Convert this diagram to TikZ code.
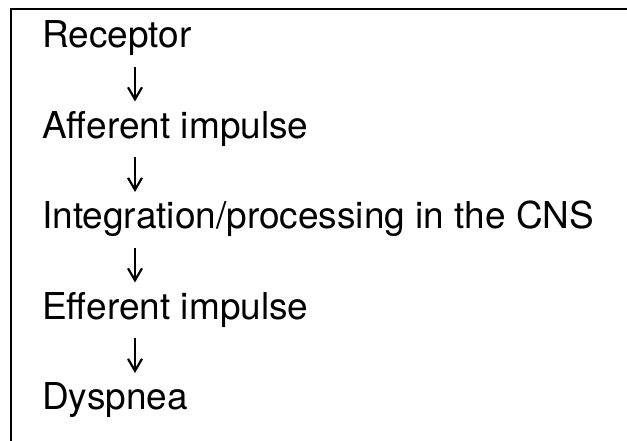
\documentclass[tikz,border=0pt]{standalone}
\usepackage{fontspec}
\setmainfont{TeX Gyre Heros}
\usetikzlibrary{arrows.meta}

\begin{document}
\begin{tikzpicture}[x=1pt, y=1pt,
    step label/.style = {anchor=base west, inner sep=0pt, font=\fontsize{37}{44}\selectfont},
    flow/.style = {line width=2.2pt, -{Straight Barb[length=12pt, width=14pt, line width=2.2pt]}}]
    \useasboundingbox (0,0) rectangle (627,441);

    % open frame, left and top edges only
    \draw[line width=2.4pt] (11,0) -- (11,432) -- (627,432);

    \node[step label] (rec) at (42, 393)   {Receptor};
    \node[step label] (aff) at (42, 302.5) {Afferent impulse};
    \node[step label] (cns) at (42, 212)   {Integration/processing in the CNS};
    \node[step label] (eff) at (42, 121.5) {Efferent impulse};
    \node[step label] (dys) at (42, 31)    {Dyspnea};
    % \draw[help lines] (0,0) grid[step=50] (627,441);

    \draw[flow] ([shift={(93,-19)}]rec.base west) -- ([shift={(93,37)}]aff.base west);
    \draw[flow] ([shift={(93,-19)}]aff.base west) -- ([shift={(93,37)}]cns.base west);
    \draw[flow] ([shift={(93,-19)}]cns.base west) -- ([shift={(93,37)}]eff.base west);
    \draw[flow] ([shift={(93,-19)}]eff.base west) -- ([shift={(93,37)}]dys.base west);
\end{tikzpicture}
\end{document}
